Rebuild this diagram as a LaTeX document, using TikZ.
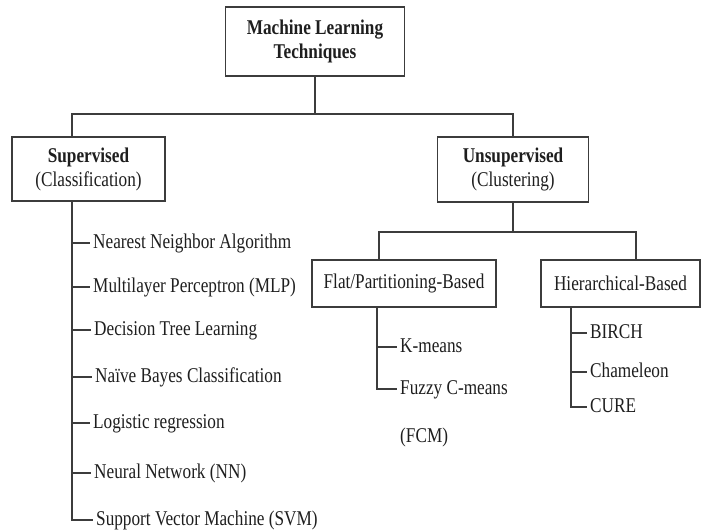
\documentclass[tikz,border=0pt]{standalone}
\usepackage{fontspec}
\setmainfont{Liberation Serif}[FakeStretch=0.82]
\definecolor{linec}{HTML}{3C3C3C}
\definecolor{textc}{HTML}{1E1E1E}
\begin{document}
\begin{tikzpicture}[x=1pt,y=-1pt,
  box/.style={draw=linec, line width=1.4pt, fill=white, align=center, inner sep=0pt,
    text=textc, font=\fontsize{21}{24}\selectfont},
  item/.style={anchor=west, inner xsep=3pt, inner ysep=0pt, text height=14pt, text depth=3pt,
    text=textc, font=\fontsize{21}{24}\selectfont},
  conn/.style={draw=linec, line width=1.3pt}]
\useasboundingbox (0,0) rectangle (708,531);
% boxes
\node[box, minimum width=179pt, minimum height=69pt] (ml) at (315,41.5) {\textbf{Machine Learning}\\\textbf{Techniques}};
\node[box, minimum width=153pt, minimum height=64pt] (sup) at (88.5,169) {\textbf{Supervised}\\(Classification)};
\node[box, minimum width=151pt, minimum height=65pt] (uns) at (513,169.5) {\textbf{Unsupervised}\\(Clustering)};
\node[box, minimum width=184pt, minimum height=47pt] (flat) at (404,283.5) {Flat/Partitioning-Based};
\node[box, minimum width=159pt, minimum height=47pt] (hier) at (620.5,283.5) {Hierarchical-Based};
% supervised items
\node[item] (i1) at (90,243) {Nearest Neighbor Algorithm};
\node[item] (i2) at (90,287) {Multilayer Perceptron (MLP)};
\node[item] (i3) at (91,330) {Decision Tree Learning};
\node[item] (i4) at (92,377) {Naïve Bayes Classification};
\node[item] (i5) at (90,423) {Logistic regression};
\node[item] (i6) at (91,473) {Neural Network (NN)};
\node[item] (i7) at (93,520) {Support Vector Machine (SVM)};
% flat items
\node[item] (km) at (397,347) {K-means};
\node[item] (fz) at (397,389) {Fuzzy C-means};
\node[item] (fcm) at (397,437) {(FCM)};
% hierarchical items
\node[item] (bi) at (587,333) {BIRCH};
\node[item] (ch) at (587,372) {Chameleon};
\node[item] (cu) at (587,407) {CURE};
% top-level connectors
\coordinate (bus) at (315,114);
\draw[conn] (ml.south) -- (bus);
\draw[conn] ([xshift=-16.5pt]sup.north) |- (bus) -| (uns.north);
% supervised trunk
\coordinate (st) at ([xshift=-16.5pt]sup.south);
\draw[conn] (st) |- (i7.west);
\foreach \n in {i1,i2,i3,i4,i5,i6} \draw[conn] (st |- \n.west) -- (\n.west);
% unsupervised bus
\coordinate (ubus) at (513,232);
\draw[conn] (uns.south) -- (ubus);
\draw[conn] ([xshift=-25pt]flat.north) |- (ubus) -| ([xshift=15.5pt]hier.north);
% flat trunk
\coordinate (ft) at ([xshift=-27pt]flat.south);
\draw[conn] (ft) |- (fz.west);
\draw[conn] (ft |- km.west) -- (km.west);
% hierarchical trunk
\coordinate (ht) at ([xshift=-49.5pt]hier.south);
\draw[conn] (ht) |- (cu.west);
\draw[conn] (ht |- bi.west) -- (bi.west);
\draw[conn] (ht |- ch.west) -- (ch.west);
\end{tikzpicture}
\end{document}
